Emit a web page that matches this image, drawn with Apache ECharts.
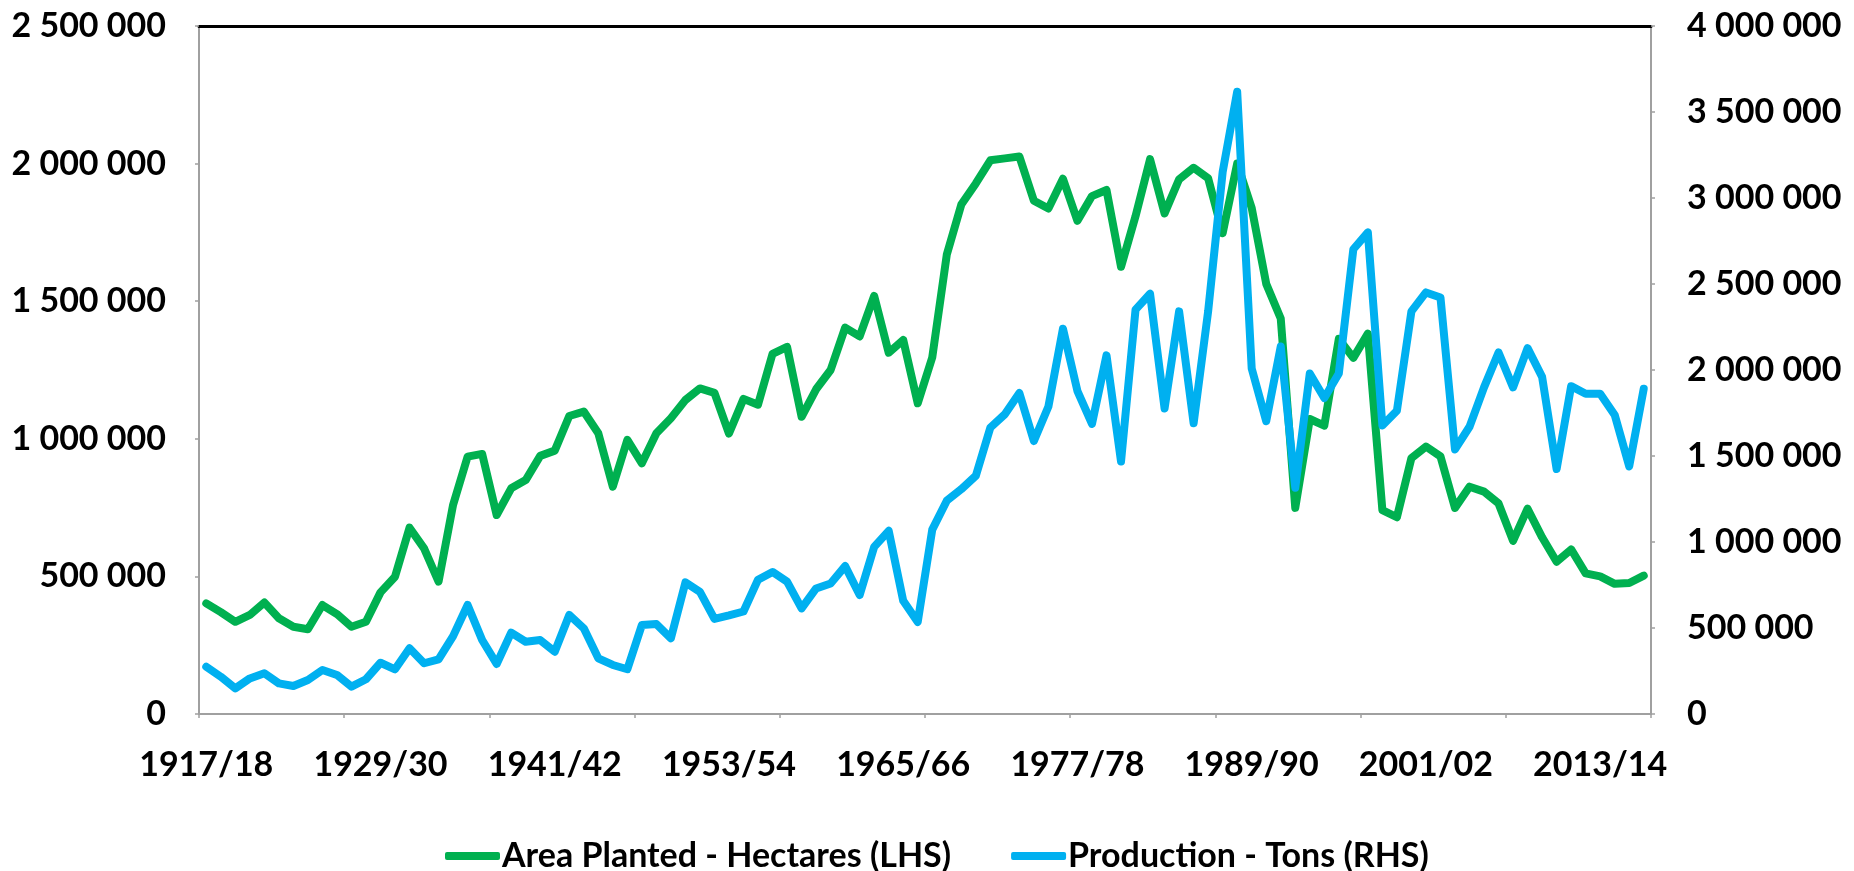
<!DOCTYPE html>
<html><head><meta charset="utf-8">
<script src="https://cdn.jsdelivr.net/npm/echarts@6/dist/echarts.min.js"></script>
<style>html,body{margin:0;padding:0;background:#fff}#c{width:1854px;height:871px}</style>
</head><body><div id="c"></div>
<script>
// Categories: seasons 1917/18 .. 2016/17
const categories = [];
for (let y = 1917; y <= 2016; y++) categories.push(y + '/' + String((y + 1) % 100).padStart(2, '0'));

// Area planted, hectares (left axis)
const areaPlanted = [
  402000, 370000, 335000, 360000, 405000, 348000, 317000, 308000, 396000, 363000,
  317000, 335000, 442000, 499000, 677000, 602000, 481000, 760000, 935000, 945000,
  723000, 820000, 850000, 938000, 957000, 1083000, 1099000, 1020000, 826000, 996000,
  911000, 1020000, 1075000, 1141000, 1183000, 1167000, 1019000, 1145000, 1124000, 1309000,
  1334000, 1080000, 1180000, 1250000, 1404000, 1372000, 1519000, 1313000, 1359000, 1129000,
  1296000, 1669000, 1851000, 1928000, 2012000, 2019000, 2026000, 1865000, 1837000, 1945000,
  1792000, 1882000, 1904000, 1625000, 1809000, 2016000, 1819000, 1943000, 1985000, 1947000,
  1747000, 2000000, 1839000, 1563000, 1437000, 749000, 1072000, 1048000, 1363000, 1294000,
  1382000, 741000, 715000, 930000, 972000, 936000, 749000, 826000, 808000, 765000,
  629000, 746000, 642000, 553000, 598000, 511000, 500000, 473000, 476000, 503000
];

// Production, tons (right axis)
const production = [
  275000, 217000, 149000, 207000, 237000, 178000, 163000, 198000, 256000, 227000,
  159000, 202000, 298000, 260000, 382000, 295000, 318000, 453000, 634000, 430000,
  291000, 473000, 420000, 430000, 362000, 576000, 498000, 324000, 285000, 260000,
  517000, 523000, 440000, 765000, 710000, 553000, 573000, 596000, 781000, 826000,
  770000, 614000, 730000, 759000, 860000, 692000, 972000, 1065000, 658000, 535000,
  1072000, 1240000, 1307000, 1385000, 1665000, 1743000, 1866000, 1587000, 1788000, 2240000,
  1877000, 1687000, 2085000, 1468000, 2351000, 2443000, 1776000, 2341000, 1690000, 2341000,
  3151000, 3618000, 2009000, 1702000, 2137000, 1316000, 1980000, 1837000, 1980000, 2702000,
  2800000, 1677000, 1763000, 2341000, 2451000, 2422000, 1538000, 1670000, 1899000, 2102000,
  1899000, 2127000, 1960000, 1424000, 1906000, 1862000, 1862000, 1739000, 1440000, 1891000
];

const seriesNames = ['Area Planted - Hectares (LHS)', 'Production - Tons (RHS)'];
const leftAxis = { min: 0, max: 2500000, interval: 500000 };
const rightAxis = { min: 0, max: 4000000, interval: 500000 };

const fmt = v => String(v).replace(/\B(?=(\d{3})+(?!\d))/g, ' ');
const FONT = 'Lato, "Open Sans", sans-serif';
const labelStyle = { color: '#000', fontFamily: FONT, fontWeight: 'bold', fontSize: 34 };
const greyLine = { color: '#a0a0a0', width: 2 };

const chart = echarts.init(document.getElementById('c'), null, { renderer: 'canvas' });
chart.setOption({
  animation: false,
  backgroundColor: '#fff',
  grid: { left: 199, right: 203, top: 26, bottom: 157, containLabel: false },
  legend: {
    data: seriesNames,
    left: 440, top: 834,
    itemWidth: 55, itemHeight: 8, itemGap: 60,
    icon: 'roundRect',
    textStyle: Object.assign({}, labelStyle, { fontSize: 34, padding: [0, 0, 0, -3] })
  },
  xAxis: [
    {
      type: 'category', data: categories, boundaryGap: true, position: 'bottom',
      axisLine: { onZero: false, lineStyle: greyLine },
      axisTick: { show: true, interval: 9, length: 4, lineStyle: { color: '#a0a0a0', width: 1.5 } },
      axisLabel: Object.assign({ interval: 11, margin: 34 }, labelStyle),
      splitLine: { show: false }
    },
    {
      type: 'category', data: categories, boundaryGap: true, position: 'top',
      axisLine: { onZero: false, lineStyle: { color: '#000', width: 3 } },
      axisTick: { show: false }, axisLabel: { show: false }, splitLine: { show: false }
    }
  ],
  yAxis: [
    {
      type: 'value', position: 'left', min: leftAxis.min, max: leftAxis.max, interval: leftAxis.interval,
      axisLine: { show: true, onZero: false, lineStyle: greyLine },
      axisTick: { show: true, length: 4, lineStyle: { color: '#a0a0a0', width: 1.5 } },
      axisLabel: Object.assign({ margin: 33, formatter: fmt }, labelStyle),
      splitLine: { show: false }
    },
    {
      type: 'value', position: 'right', min: rightAxis.min, max: rightAxis.max, interval: rightAxis.interval,
      axisLine: { show: true, onZero: false, lineStyle: greyLine },
      axisTick: { show: true, length: 4, lineStyle: { color: '#a0a0a0', width: 1.5 } },
      axisLabel: Object.assign({ margin: 36, formatter: fmt }, labelStyle),
      splitLine: { show: false }
    }
  ],
  series: [
    {
      name: seriesNames[0], type: 'line', xAxisIndex: 0, yAxisIndex: 0, data: areaPlanted,
      showSymbol: false, symbol: 'none', color: '#00B050',
      lineStyle: { color: '#00B050', width: 8, join: 'round', cap: 'round' }
    },
    {
      name: seriesNames[1], type: 'line', xAxisIndex: 0, yAxisIndex: 1, data: production,
      showSymbol: false, symbol: 'none', color: '#00B0F0',
      lineStyle: { color: '#00B0F0', width: 8, join: 'round', cap: 'round' }
    }
  ]
});
</script>
</body></html>
